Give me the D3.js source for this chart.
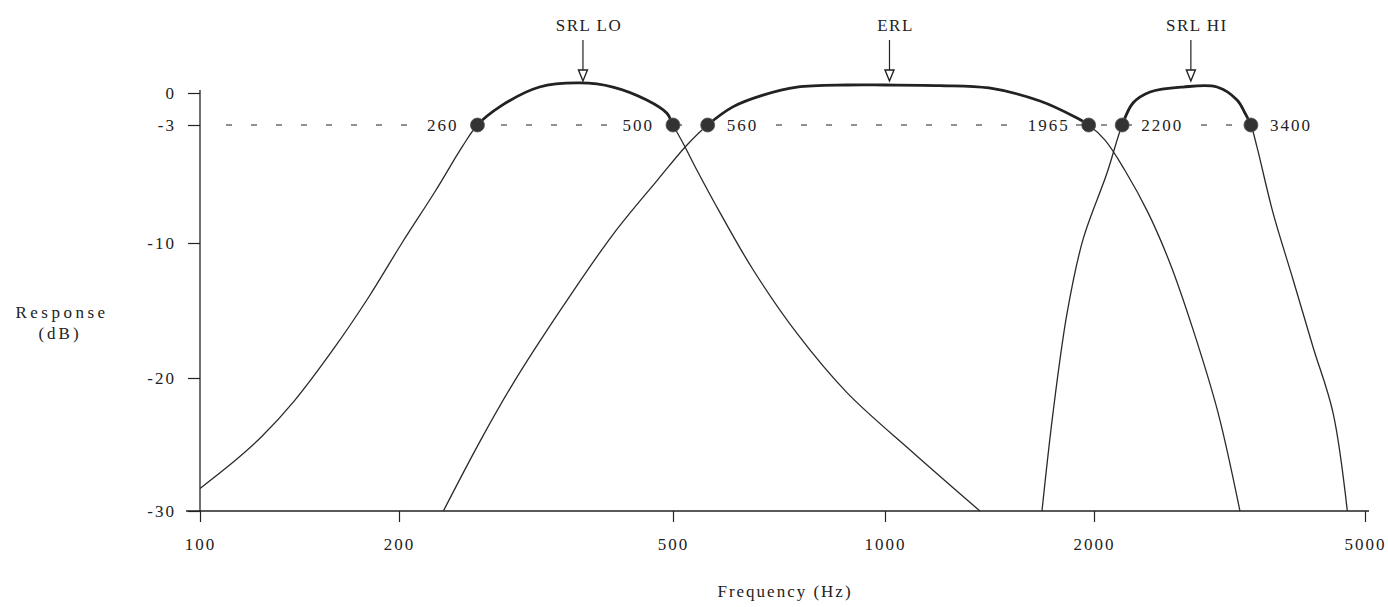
<!DOCTYPE html>
<html>
<head>
<meta charset="utf-8">
<script src="https://cdn.jsdelivr.net/npm/d3@7"></script>
<style>
  body { margin: 0; background: #fff; }
  text { font-family: "Liberation Serif", "DejaVu Serif", serif; fill: #222; }
</style>
</head>
<body>
<div id="chart"></div>
<script>
const width = 1388;
const height = 607;

// frequency response curves (Hz, dB)
const srlLoFreq = [100, 113, 124, 139, 160, 180, 202, 226, 247, 260, 280, 320, 366, 409, 458, 490, 500, 517, 541, 583, 650, 750, 883, 1097, 1370];
const srlLoDb = [-28.3, -26.2, -24.4, -21.7, -17.7, -14.0, -10, -6.9, -4.3, -3, -1.3, 0.56, 0.94, 0.56, -0.66, -1.9, -3, -4.1, -5.7, -8.2, -12.0, -16.7, -21.1, -25.6, -30];

const erlFreq = [232, 262, 293, 346, 409, 474, 523, 560, 608, 671, 750, 883, 1000, 1200, 1412, 1672, 1878, 1965, 2076, 2221, 2401, 2586, 2795, 3042, 3276];
const erlDb = [-30, -24.8, -20.4, -14.7, -9.5, -6.3, -4.2, -3, -1.3, -0.2, 0.55, 0.75, 0.75, 0.7, 0.47, -0.75, -2.25, -3, -3.9, -5.7, -8.2, -11.5, -16.4, -22.6, -30];

const srlHiFreq = [1683, 1746, 1829, 1928, 2090, 2200, 2282, 2417, 2702, 3032, 3244, 3333, 3400, 3470, 3663, 3920, 4194, 4487, 4710];
const srlHiDb = [-30, -22.6, -15.2, -9.8, -5.85, -3, -0.94, 0.09, 0.56, 0.56, -0.66, -1.9, -3, -4.3, -8.2, -12.7, -17.7, -22.6, -30];

// -3 dB crossover points
const cutoffFreq = [260, 500, 560, 1965, 2200, 3400];

// band names and the frequency their arrow points at
const bandNames = ["SRL LO", "ERL", "SRL HI"];
const bandCenters = [370, 1015, 2775];

const xTicks = [100, 200, 500, 1000, 2000, 5000];
const yTicks = [0, -3, -10, -20, -30];

const svg = d3
  .select("#chart")
  .append("svg")
  .attr("width", width)
  .attr("height", height);

// the drawn axis is only roughly logarithmic, so pin the ticks
const x = d3.scaleLog()
  .domain(xTicks)
  .range([200, 399, 673, 885, 1094, 1365]);

const y = d3.scaleLinear()
  .domain([-30, -20, -10, -3, 0])
  .range([511, 378, 243, 125, 93]);

const ink = "#222";

// axes
const yAxis = svg.append("g")
  .attr("transform", "translate(" + x(100) + ",0)")
  .call(d3.axisLeft(y).tickValues(yTicks).tickSize(12).tickSizeOuter(0).tickPadding(12).tickFormat(d => String(d)));
yAxis.select(".domain").remove();
yAxis.selectAll("line").attr("stroke", ink).attr("stroke-width", 1.2);
yAxis.selectAll("text")
  .attr("font-size", 17)
  .attr("letter-spacing", 2)
  .attr("fill", ink)
  .attr("font-family", "Liberation Serif");

const xAxis = svg.append("g")
  .attr("transform", "translate(0," + y(-30) + ")")
  .call(d3.axisBottom(x).tickValues(xTicks).tickSize(11).tickSizeOuter(0).tickPadding(16).tickFormat(d => String(d)));
xAxis.select(".domain").remove();
xAxis.selectAll("line").attr("stroke", ink).attr("stroke-width", 1.2);
xAxis.selectAll("text")
  .attr("font-size", 17)
  .attr("letter-spacing", 2)
  .attr("fill", ink)
  .attr("font-family", "Liberation Serif");

svg.append("line")
  .attr("x1", x(100)).attr("x2", x(100))
  .attr("y1", y(0) - 3).attr("y2", y(-30))
  .attr("stroke", ink).attr("stroke-width", 1.3);
svg.append("line")
  .attr("x1", x(100) - 14).attr("x2", x(5000) + 4)
  .attr("y1", y(-30)).attr("y2", y(-30))
  .attr("stroke", ink).attr("stroke-width", 1.3);

// axis titles
svg.append("text")
  .attr("x", 62).attr("y", 318)
  .attr("text-anchor", "middle")
  .attr("font-size", 17)
  .attr("letter-spacing", 3.5)
  .text("Response");
svg.append("text")
  .attr("x", 60).attr("y", 339)
  .attr("text-anchor", "middle")
  .attr("font-size", 17)
  .attr("letter-spacing", 3)
  .text("(dB)");
svg.append("text")
  .attr("x", 785).attr("y", 597)
  .attr("text-anchor", "middle")
  .attr("font-size", 17)
  .attr("letter-spacing", 2)
  .text("Frequency (Hz)");

// -3 dB dashed reference
svg.append("line")
  .attr("x1", 226).attr("x2", 1245)
  .attr("y1", y(-3)).attr("y2", y(-3))
  .attr("stroke", ink)
  .attr("stroke-width", 1.2)
  .attr("stroke-dasharray", "6,19");

// labels of the crossover points (left or right of the dot)
const leftLabels = [260, 500, 1965];
const cutLabels = svg.append("g")
  .selectAll("g")
  .data(cutoffFreq)
  .enter()
  .append("g");
cutLabels.append("rect").attr("fill", "#fff");
cutLabels.append("text")
  .attr("x", d => leftLabels.includes(d) ? x(d) - 19 : x(d) + 19)
  .attr("y", y(-3) + 6)
  .attr("text-anchor", d => leftLabels.includes(d) ? "end" : "start")
  .attr("font-size", 17)
  .attr("letter-spacing", 2)
  .text(d => d);
cutLabels.each(function () {
  const g = d3.select(this);
  const b = g.select("text").node().getBBox();
  g.select("rect")
    .attr("x", b.x - 4).attr("y", b.y)
    .attr("width", b.width + 8).attr("height", b.height);
});

// curves
const curves = [
  srlLoFreq.map((f, i) => [f, srlLoDb[i]]),
  erlFreq.map((f, i) => [f, erlDb[i]]),
  srlHiFreq.map((f, i) => [f, srlHiDb[i]])
];

const line = d3.line()
  .x(d => x(d[0]))
  .y(d => y(d[1]))
  .curve(d3.curveCatmullRom.alpha(0.5));

svg.append("g")
  .selectAll("path")
  .data(curves)
  .enter()
  .append("path")
  .attr("d", line)
  .attr("fill", "none")
  .attr("stroke", "#2a2a2a")
  .attr("stroke-width", 1.3);

// pass band drawn heavier
svg.append("clipPath")
  .attr("id", "top")
  .append("rect")
  .attr("x", 0).attr("y", 0)
  .attr("width", width).attr("height", y(-3) + 3);

svg.append("g")
  .attr("clip-path", "url(#top)")
  .selectAll("path")
  .data(curves)
  .enter()
  .append("path")
  .attr("d", line)
  .attr("fill", "none")
  .attr("stroke", ink)
  .attr("stroke-width", 2.8);

// crossover dots
svg.append("g")
  .selectAll("circle")
  .data(cutoffFreq)
  .enter()
  .append("circle")
  .attr("cx", d => x(d))
  .attr("cy", y(-3))
  .attr("r", 7)
  .attr("fill", "#333")
  .attr("stroke", "#555")
  .attr("stroke-width", 0.8);

// band labels with arrows
const bands = svg.append("g")
  .selectAll("g")
  .data(bandNames)
  .enter()
  .append("g");

bands.append("text")
  .attr("x", (d, i) => x(bandCenters[i]) + 6)
  .attr("y", 31)
  .attr("text-anchor", "middle")
  .attr("font-size", 17)
  .attr("letter-spacing", 1.5)
  .text(d => d);

bands.append("line")
  .attr("x1", (d, i) => x(bandCenters[i]))
  .attr("x2", (d, i) => x(bandCenters[i]))
  .attr("y1", 40)
  .attr("y2", 72)
  .attr("stroke", ink)
  .attr("stroke-width", 1.2);

bands.append("path")
  .attr("d", (d, i) => {
    const cx = x(bandCenters[i]);
    return "M" + (cx - 4.5) + ",70L" + (cx + 4.5) + ",70L" + cx + ",81Z";
  })
  .attr("fill", "#fff")
  .attr("stroke", ink)
  .attr("stroke-width", 1.4);
</script>
</body>
</html>
